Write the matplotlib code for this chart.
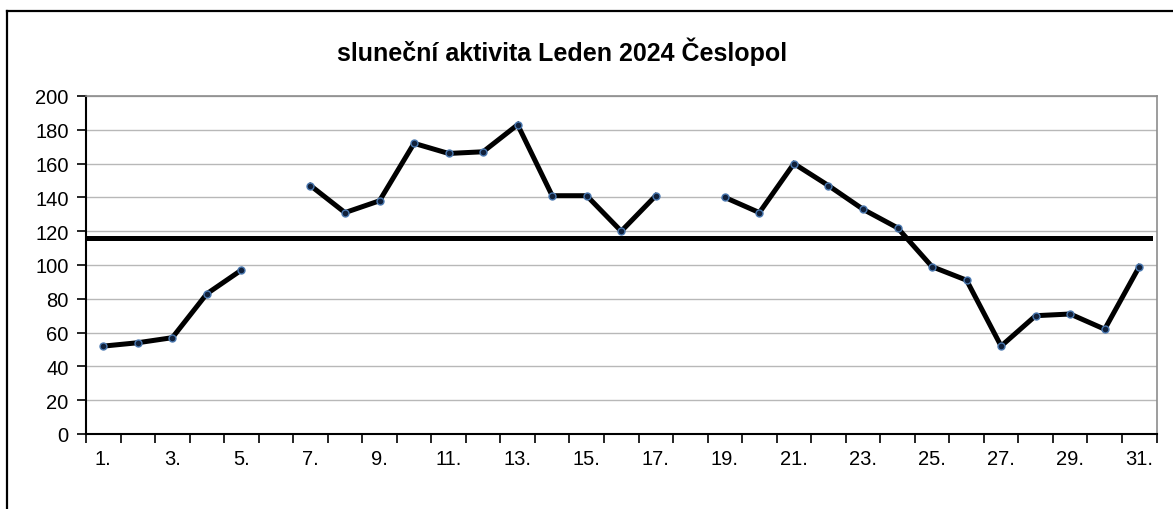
import numpy as np
import matplotlib
matplotlib.use("Agg")
import matplotlib.pyplot as plt
from matplotlib.lines import Line2D

title = "sluneční aktivita Leden 2024 Česlopol"
days = list(range(1, 32))
values = [52, 54, 57, 83, 97, np.nan, 147, 131, 138, 172, 166, 167, 183, 141, 141,
          120, 141, np.nan, 140, 131, 160, 147, 133, 122, 99, 91, 52, 70, 71, 62, 99]
label_days = list(range(1, 32, 2))
x_labels = [f"{d}." for d in label_days]
y_ticks = list(range(0, 201, 20))

plt.rcParams['font.family'] = ['Liberation Sans', 'DejaVu Sans']

W, H = 1173, 510
fig = plt.figure(figsize=(W / 100, H / 100), dpi=100)
fig.patch.set_facecolor('white')

# outer frame (top and left visible)
fig.add_artist(Line2D([7 / W, 7 / W], [0, 1 - 12 / H], transform=fig.transFigure,
                      color='black', lw=1.6))
fig.add_artist(Line2D([7 / W, 1], [1 - 12 / H, 1 - 12 / H], transform=fig.transFigure,
                      color='black', lw=1.6))

left, right, top, bottom = 86, 1156.5, 97, 435
ax = fig.add_axes([left / W, 1 - bottom / H, (right - left) / W, (bottom - top) / H])

vals = np.array(values, dtype=float)
mean = np.nanmean(vals)

ax.plot(days, vals, color='black', lw=3.6, zorder=3, solid_joinstyle='miter')
ax.plot(days, vals, ls='none', marker='o', ms=5, mfc='#10203a', mec='#4a78b0',
        mew=1.0, zorder=4)
ax.plot([0.58, 31.3], [mean, mean], color='black', lw=3.6, zorder=2)

ax.set_xlim(0.5, 31.5)
ax.set_ylim(0, 200)
ax.set_yticks(y_ticks)
ax.set_yticklabels([str(v) for v in y_ticks], fontsize=14.5)
ax.yaxis.grid(True, color='#b8b8b8', lw=1.0)
ax.set_axisbelow(True)

ax.set_xticks(np.arange(0.5, 32, 1))
ax.set_xticklabels([])
ax.set_xticks(label_days, minor=True)
ax.set_xticklabels(x_labels, minor=True, fontsize=14.5)
ax.tick_params(axis='x', which='major', length=6.5, width=1.2, direction='out', color='black')
ax.tick_params(axis='x', which='minor', length=0, pad=11)
ax.tick_params(axis='y', length=6.5, width=1.2, direction='out', color='black', pad=6)

for s in ['left', 'bottom']:
    ax.spines[s].set_color('black')
    ax.spines[s].set_linewidth(1.5)
for s in ['top', 'right']:
    ax.spines[s].set_color('#8c8c8c')
    ax.spines[s].set_linewidth(1.2)

fig.text(562 / W, 1 - 61 / H, title, ha='center', va='baseline', fontsize=18,
         fontweight='bold', color='black')

fig.savefig('out.png', dpi=100, facecolor='white')
